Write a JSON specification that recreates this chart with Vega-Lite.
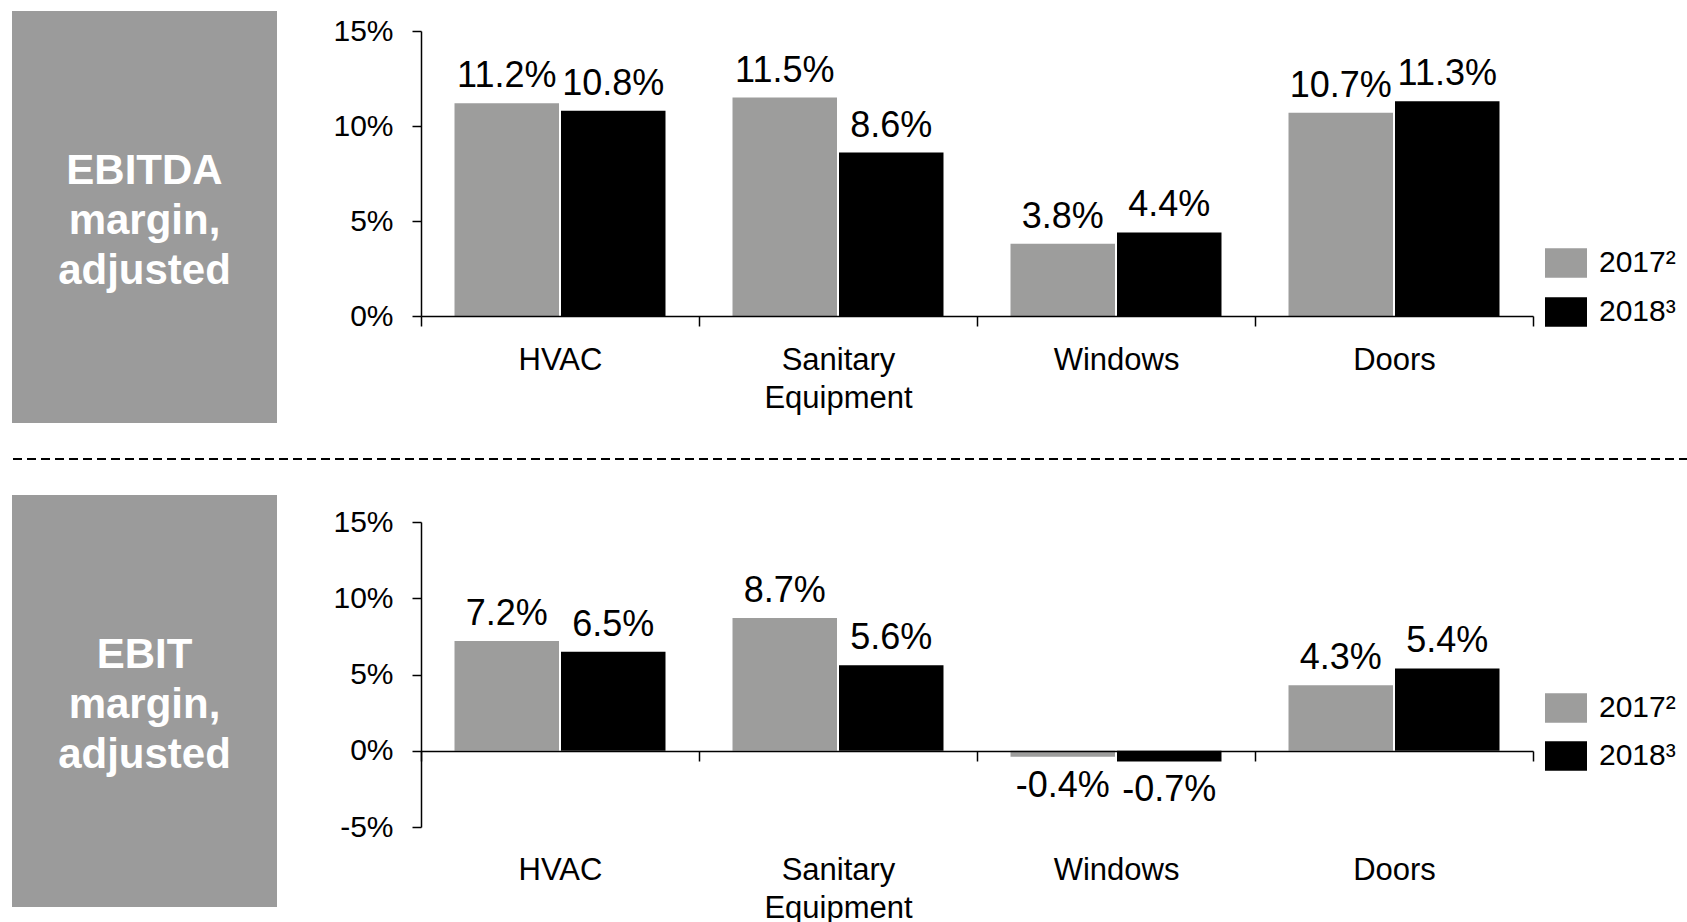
{
  "$schema": "https://vega.github.io/schema/vega-lite/v6.json",
  "background": "white",
  "padding": {"left": 11, "top": 11, "right": 0, "bottom": 0},
  "autosize": {"type": "pad"},
  "spacing": 35,
  "config": {
    "font": "Liberation Sans",
    "locale": {"number": {"decimal": ".", "thousands": ",", "grouping": [3], "currency": ["$", ""], "minus": "-"}},
    "view": {"stroke": null},
    "axis": {"grid": false, "title": null, "domainColor": "#000000", "tickColor": "#000000", "labelColor": "#000000", "labelFont": "Liberation Sans"}
  },
  "datasets": {
    "ebitda": [
      {"segment": "HVAC", "year": "2017", "margin": 0.112},
      {"segment": "HVAC", "year": "2018", "margin": 0.108},
      {"segment": "Sanitary Equipment", "year": "2017", "margin": 0.115},
      {"segment": "Sanitary Equipment", "year": "2018", "margin": 0.086},
      {"segment": "Windows", "year": "2017", "margin": 0.038},
      {"segment": "Windows", "year": "2018", "margin": 0.044},
      {"segment": "Doors", "year": "2017", "margin": 0.107},
      {"segment": "Doors", "year": "2018", "margin": 0.113}
    ],
    "ebit": [
      {"segment": "HVAC", "year": "2017", "margin": 0.072},
      {"segment": "HVAC", "year": "2018", "margin": 0.065},
      {"segment": "Sanitary Equipment", "year": "2017", "margin": 0.087},
      {"segment": "Sanitary Equipment", "year": "2018", "margin": 0.056},
      {"segment": "Windows", "year": "2017", "margin": -0.004},
      {"segment": "Windows", "year": "2018", "margin": -0.007},
      {"segment": "Doors", "year": "2017", "margin": 0.043},
      {"segment": "Doors", "year": "2018", "margin": 0.054}
    ]
  },
  "resolve": {"scale": {"color": "independent", "x": "independent", "y": "independent"}, "legend": {"color": "independent"}},
  "vconcat": [
    {
      "bounds": "flush",
      "spacing": 144,
      "resolve": {"scale": {"color": "independent", "x": "independent", "y": "independent"}, "legend": {"color": "independent"}},
      "hconcat": [
        {
          "width": 265,
          "height": 412,
          "view": {"fill": "#9b9b9b", "stroke": null},
          "data": {"values": [{"label": "EBITDA\nmargin,\nadjusted"}]},
          "mark": {"type": "text", "lineBreak": "\n", "font": "Liberation Sans", "fontWeight": "bold", "fontSize": 42, "lineHeight": 50, "color": "#ffffff", "align": "center", "baseline": "middle", "dy": -46},
          "encoding": {"text": {"field": "label", "type": "nominal"}}
        },
        {
          "width": 1112,
          "height": 412,
          "data": {"name": "ebitda"},
          "encoding": {
            "x": {
              "field": "segment", "type": "nominal",
              "sort": ["HVAC", "Sanitary Equipment", "Windows", "Doors"],
              "scale": {"paddingInner": 0, "paddingOuter": 0},
              "axis": {
                "offset": -107, "zindex": 1, "domainWidth": 1.5, "tickWidth": 1.5, "tickSize": 10, "tickBand": "extent",
                "labelAngle": 0, "labelFontSize": 31, "labelLineHeight": 38, "labelBaseline": "top", "labelPadding": 19,
                "labelExpr": "datum.label == 'Sanitary Equipment' ? ['Sanitary', 'Equipment'] : datum.label"
              }
            },
            "xOffset": {"field": "year", "type": "nominal", "sort": ["2017", "2018"], "scale": {"paddingInner": 0.0188, "paddingOuter": 0.3146}},
            "y": {
              "field": "margin", "type": "quantitative",
              "scale": {"domain": [0, 0.15], "range": [305, 20], "nice": false},
              "axis": {"values": [0, 0.05, 0.1, 0.15], "format": ".0%", "labelFontSize": 30, "tickSize": 9, "tickWidth": 1.5, "domainWidth": 1.5, "labelPadding": 19}
            }
          },
          "layer": [
            {
              "mark": {"type": "bar"},
              "encoding": {
                "color": {
                  "field": "year", "type": "nominal",
                  "scale": {"domain": ["2017", "2018"], "range": ["#9d9d9c", "#000000"]},
                  "legend": {
                    "title": null, "orient": "none", "legendX": 1124, "legendY": 231, "padding": 0,
                    "symbolType": "M-1,-0.7H1V0.7H-1Z", "symbolSize": 1764, "symbolStrokeWidth": 0, "symbolOpacity": 1,
                    "labelFontSize": 30, "labelColor": "#000000", "labelFont": "Liberation Sans", "labelOffset": 12, "rowPadding": 13,
                    "labelExpr": "datum.label == '2017' ? '2017²' : '2018³'"
                  }
                }
              }
            },
            {
              "transform": [{"filter": "datum.margin >= 0"}],
              "mark": {"type": "text", "baseline": "alphabetic", "dy": -16, "fontSize": 36, "color": "#000000"},
              "encoding": {"text": {"field": "margin", "type": "quantitative", "format": ".1%"}}
            },
            {
              "transform": [{"filter": "datum.margin < 0"}],
              "mark": {"type": "text", "baseline": "top", "dy": 12, "fontSize": 36, "color": "#000000"},
              "encoding": {"text": {"field": "margin", "type": "quantitative", "format": ".1%"}}
            }
          ]
        }
      ]
    },
    {
      "width": 1676,
      "height": 1,
      "data": {"values": [{}]},
      "mark": {"type": "rule", "strokeDash": [9, 5], "strokeWidth": 2, "color": "#000000"},
      "encoding": {"y": {"datum": 0, "type": "quantitative", "scale": {"domain": [0, 1]}, "axis": null}}
    },
    {
      "bounds": "flush",
      "spacing": 144,
      "resolve": {"scale": {"color": "independent", "x": "independent", "y": "independent"}, "legend": {"color": "independent"}},
      "hconcat": [
        {
          "width": 265,
          "height": 412,
          "view": {"fill": "#9b9b9b", "stroke": null},
          "data": {"values": [{"label": "EBIT\nmargin,\nadjusted"}]},
          "mark": {"type": "text", "lineBreak": "\n", "font": "Liberation Sans", "fontWeight": "bold", "fontSize": 42, "lineHeight": 50, "color": "#ffffff", "align": "center", "baseline": "middle", "dy": -46},
          "encoding": {"text": {"field": "label", "type": "nominal"}}
        },
        {
          "width": 1112,
          "height": 412,
          "data": {"name": "ebit"},
          "encoding": {
            "x": {
              "field": "segment", "type": "nominal",
              "sort": ["HVAC", "Sanitary Equipment", "Windows", "Doors"],
              "scale": {"paddingInner": 0, "paddingOuter": 0},
              "axis": {
                "offset": -156, "zindex": 1, "domainWidth": 1.5, "tickWidth": 1.5, "tickSize": 10, "tickBand": "extent",
                "labelAngle": 0, "labelFontSize": 31, "labelLineHeight": 38, "labelBaseline": "top", "labelPadding": 94,
                "labelExpr": "datum.label == 'Sanitary Equipment' ? ['Sanitary', 'Equipment'] : datum.label"
              }
            },
            "xOffset": {"field": "year", "type": "nominal", "sort": ["2017", "2018"], "scale": {"paddingInner": 0.0188, "paddingOuter": 0.3146}},
            "y": {
              "field": "margin", "type": "quantitative",
              "scale": {"domain": [-0.05, 0.15], "range": [332, 27], "nice": false},
              "axis": {"values": [-0.05, 0, 0.05, 0.1, 0.15], "format": ".0%", "labelFontSize": 30, "tickSize": 9, "tickWidth": 1.5, "domainWidth": 1.5, "labelPadding": 19}
            }
          },
          "layer": [
            {
              "mark": {"type": "bar"},
              "encoding": {
                "color": {
                  "field": "year", "type": "nominal",
                  "scale": {"domain": ["2017", "2018"], "range": ["#9d9d9c", "#000000"]},
                  "legend": {
                    "title": null, "orient": "none", "legendX": 1124, "legendY": 192, "padding": 0,
                    "symbolType": "M-1,-0.7H1V0.7H-1Z", "symbolSize": 1764, "symbolStrokeWidth": 0, "symbolOpacity": 1,
                    "labelFontSize": 30, "labelColor": "#000000", "labelFont": "Liberation Sans", "labelOffset": 12, "rowPadding": 12,
                    "labelExpr": "datum.label == '2017' ? '2017²' : '2018³'"
                  }
                }
              }
            },
            {
              "transform": [{"filter": "datum.margin >= 0"}],
              "mark": {"type": "text", "baseline": "alphabetic", "dy": -16, "fontSize": 36, "color": "#000000"},
              "encoding": {"text": {"field": "margin", "type": "quantitative", "format": ".1%"}}
            },
            {
              "transform": [{"filter": "datum.margin < 0"}],
              "mark": {"type": "text", "baseline": "top", "dy": 12, "fontSize": 36, "color": "#000000"},
              "encoding": {"text": {"field": "margin", "type": "quantitative", "format": ".1%"}}
            }
          ]
        }
      ]
    }
  ]
}
